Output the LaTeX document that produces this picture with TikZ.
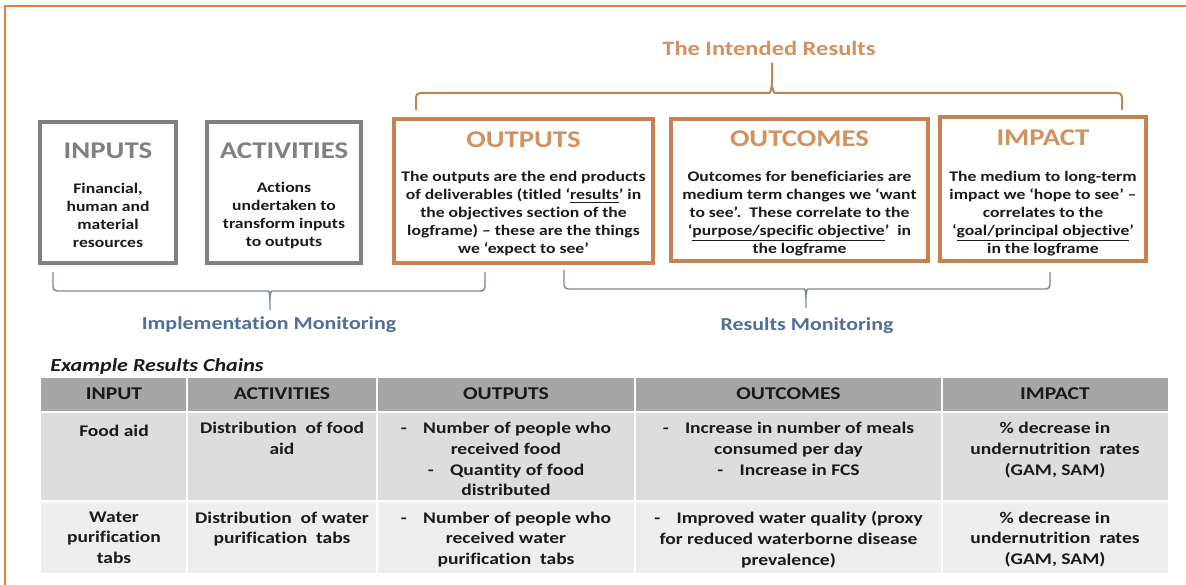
\documentclass[tikz,border=0pt]{standalone}
\usepackage{fontspec}
\setmainfont{Carlito}[FakeStretch=1.2, Ligatures=NoCommon]
\definecolor{frameorange}{HTML}{ED7D31}
\definecolor{boxorange}{HTML}{C88250}
\definecolor{titleorange}{HTML}{D2915F}
\definecolor{bracetop}{HTML}{BF8450}
\definecolor{boxgray}{HTML}{808080}
\definecolor{bracegray}{HTML}{7A8796}
\definecolor{monblue}{HTML}{506E96}
\definecolor{headfill}{HTML}{A6A6A6}
\definecolor{rowA}{HTML}{DDDDDD}
\definecolor{rowB}{HTML}{EEEEEE}
\definecolor{ink}{HTML}{1A1A1A}
\begin{document}
\begin{tikzpicture}[x=0.75pt,y=-0.75pt,
  box/.style={draw, line width=3pt, inner sep=0pt},
  graybox/.style={box, draw=boxgray},
  orangebox/.style={box, draw=boxorange},
  boxsize/.style 2 args={minimum width={#1*0.75pt}, minimum height={#2*0.75pt}},
  boxtitle/.style={font=\fontsize{18}{20}\selectfont\bfseries, inner sep=0pt},
  boxbody/.style={font=\fontsize{11}{13.5}\selectfont\bfseries, align=center, text=ink, inner sep=0pt},
  hcell/.style={font=\fontsize{13.5}{16}\selectfont\bfseries, text=ink, inner sep=0pt},
  cell/.style={font=\fontsize{12.2}{15.5}\selectfont\bfseries, align=center, text=ink,
    anchor=north, inner sep=0pt, execute at begin node=\strut},
  monlabel/.style={font=\fontsize{13.7}{16}\selectfont\bfseries, text=monblue, inner sep=0pt},
  botbrace/.style={draw=bracegray, line width=1.1pt, rounded corners=3pt},
  topbrace/.style={draw=bracetop, line width=1.5pt, rounded corners=3pt},
  sep/.style={draw=white, line width=1.5pt}
]
\useasboundingbox (0,0) rectangle (1186,585);

% outer frame (top and left edges)
\draw[frameorange, line width=1.5pt] (5,585) -- (5,6) -- (1186,6);

% heading over the result boxes
\node[font=\fontsize{15.3}{18}\selectfont\bfseries, text=titleorange, inner sep=0pt]
  (intended) at (769,48) {The Intended Results};

% brace grouping the three result boxes
\coordinate (tbL) at (416,110);
\coordinate (tbR) at (1122,110);
\coordinate (tbC) at (772,63);
\draw[topbrace] (tbL) -- (416,93) -- (765,93) .. controls (770,93) .. (772,86) -- (tbC);
\draw[topbrace] (tbR) -- (1122,93) -- (779,93) .. controls (774,93) .. (772,86);

% the five stage boxes
\node[graybox, boxsize={136}{141}] (inputs) at (108,192.5) {};
\node[graybox, boxsize={154}{141}] (activities) at (284,192.5) {};
\node[orangebox, boxsize={259}{144}] (outputs) at (523.5,191) {};
\node[orangebox, boxsize={257}{142}] (outcomes) at (799.5,190) {};
\node[orangebox, boxsize={206}{144}] (impact) at (1043,189) {};

\node[boxtitle, text=boxgray] (tIn) at (108,151) {INPUTS};
\node[boxtitle, text=boxgray] (tAc) at (284,151) {ACTIVITIES};
\node[boxtitle, text=titleorange] (tOp) at (523.5,140) {OUTPUTS};
\node[boxtitle, text=titleorange] (tOc) at (799.5,139) {OUTCOMES};
\node[boxtitle, text=titleorange] (tIm) at (1043,138) {IMPACT};

\node[boxbody] (bIn) at (108,215.5) {Financial,\\human and\\material\\resources};
\node[boxbody] (bAc) at (284,215.5) {Actions\\undertaken to\\transform inputs\\to outputs};
\node[boxbody] (bOp) at (523.5,214) {The outputs are the end products\\of deliverables (titled ‘\underline{results}’ in\\the objectives section of the\\logframe) – these are the things\\we ‘expect to see’};
\node[boxbody] (bOc) at (799.5,214) {Outcomes for beneficiaries are\\medium term changes we ‘want\\to see’.\ \ These correlate to the\\‘\underline{purpose/specific objective}’\ \ in\\the logframe};
\node[boxbody] (bIm) at (1043,214) {The medium to long-term\\impact we ‘hope to see’ –\\correlates to the\\‘\underline{goal/principal objective}’\\in the logframe};

% monitoring braces under the boxes
\coordinate (ibL) at (53,272);
\coordinate (ibR) at (485,272);
\coordinate (ibC) at (270,310);
\draw[botbrace] (ibL) -- (53,291) -- (264,291) .. controls (269,291) .. (270,297) -- (ibC);
\draw[botbrace] (ibR) -- (485,291) -- (276,291) .. controls (271,291) .. (270,297);
\coordinate (rbL) at (564,270);
\coordinate (rbR) at (1050,272);
\coordinate (rbC) at (806,308);
\draw[botbrace] (rbL) -- (564,289) -- (800,289) .. controls (805,289) .. (806,295) -- (rbC);
\draw[botbrace] (rbR) -- (1050,289) -- (812,289) .. controls (807,289) .. (806,295);

\node[monlabel] (implmon) at (269,325) {Implementation Monitoring};
\node[monlabel] (resmon) at (807,326) {Results Monitoring};

% example table
\node[font=\fontsize{13.8}{16}\selectfont\bfseries\itshape, text=ink, anchor=west, inner sep=0pt]
  (extitle) at (50,366) {Example Results Chains};

\fill[headfill] (41,378) rectangle (1168,411);
\fill[rowA] (41,412) rectangle (1168,500);
\fill[rowB] (41,503) rectangle (1168,573);
\foreach \cx in {187,377,635,942} \draw[sep] (\cx,378) -- (\cx,573);
\draw[sep] (41,411.5) -- (1168,411.5);
\draw[sep] (41,501.5) -- (1168,501.5);

\node[hcell] (hIn) at (114,394) {INPUT};
\node[hcell] (hAc) at (282,394) {ACTIVITIES};
\node[hcell] (hOp) at (506,394) {OUTPUTS};
\node[hcell] (hOc) at (788.5,394) {OUTCOMES};
\node[hcell] (hIm) at (1055,394) {IMPACT};

\node[cell] (in1) at (114,422) {Food aid};
\node[cell] (ac1) at (282,422) {Distribution\ \ of food\\aid};
\node[cell] (op1) at (506,422) {-\quad Number of people who\\received food\\-\quad Quantity of food\\distributed};
\node[cell] (oc1) at (788.5,422) {-\quad Increase in number of meals\\consumed per day\\-\quad Increase in FCS};
\node[cell] (im1) at (1055,422) {\% decrease in\\undernutrition\ \ rates\\(GAM, SAM)};

\node[cell] (in2) at (114,511.5) {Water\\purification\\tabs};
\node[cell] (ac2) at (282,511.5) {Distribution\ \ of water\\purification\ \ tabs};
\node[cell] (op2) at (506,511.5) {-\quad Number of people who\\received water\\purification\ \ tabs};
\node[cell] (oc2) at (788.5,511.5) {-\quad Improved water quality (proxy\\for reduced waterborne disease\\prevalence)};
\node[cell] (im2) at (1055,511.5) {\% decrease in\\undernutrition\ \ rates\\(GAM, SAM)};
\end{tikzpicture}
\end{document}
